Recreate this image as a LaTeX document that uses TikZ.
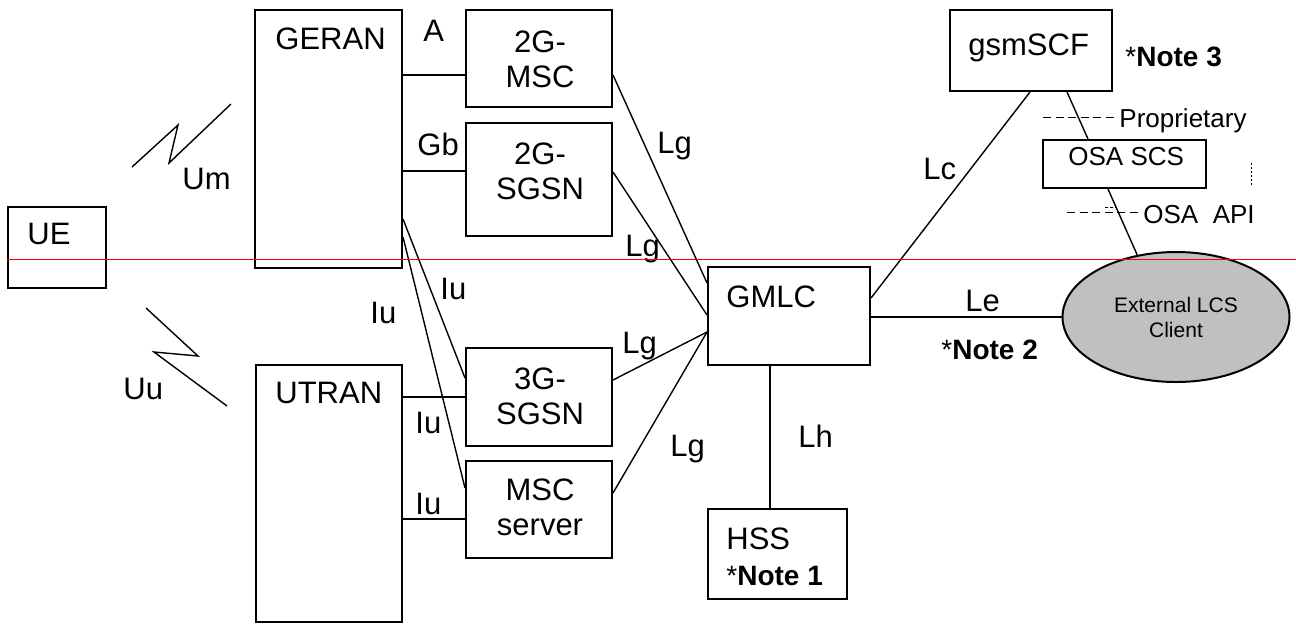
\documentclass[tikz,border=0pt]{standalone}
\usepackage{fontspec}
\setmainfont{Liberation Sans}
\usetikzlibrary{fit,shapes.geometric}
\definecolor{clientGrey}{HTML}{C0C0C0}

\begin{document}
\begin{tikzpicture}[
    x=0.5pt,y=-0.5pt,
    lcsBox/.style={draw=black,line width=1pt,inner sep=0pt},
    lcsLink/.style={draw=black,line width=0.7pt},
    lcsText/.style={inner sep=0pt,anchor=north west,
                    font=\fontsize{15.5}{17.5}\selectfont},
    lcsStack/.style={lcsText,anchor=north,align=center},
    lcsNote/.style={inner sep=0pt,anchor=north west,
                    font=\fontsize{14}{16}\selectfont},
    lcsSmall/.style={inner sep=0pt,anchor=north west,
                     font=\fontsize{13}{15}\selectfont},
    lcsDash/.style={draw=black,line width=0.5pt,dash pattern=on 4pt off 2.3pt},
    lcsDivider/.style={draw=red,line width=0.5pt}]
    \useasboundingbox (0,0) rectangle (1296,623);

    % network elements
    \node[lcsBox,fit={(8,207) (106,288)}] (ue) {};
    \node[lcsBox,fit={(255,10) (402,268)}] (geran) {};
    \node[lcsBox,fit={(256,365) (402,622)}] (utran) {};
    \node[lcsBox,fit={(466,10) (612,107)}] (msc2g) {};
    \node[lcsBox,fit={(466,123) (612,236)}] (sgsn2g) {};
    \node[lcsBox,fit={(466,348) (612,446)}] (sgsn3g) {};
    \node[lcsBox,fit={(466,461) (612,558)}] (mscsrv) {};
    \node[lcsBox,fit={(708,267) (870,365)}] (gmlc) {};
    \node[lcsBox,fit={(708,509) (847,599)}] (hss) {};
    \node[lcsBox,fit={(950,10) (1112,91)}] (gsmscf) {};
    \node[lcsBox,fit={(1043,140) (1206,188)}] (osascs) {};
    \node[ellipse,draw=black,line width=1pt,fill=clientGrey,inner sep=0pt,
          minimum width=113.5pt,minimum height=65pt,align=center,
          font=\fontsize{10.5}{12.5}\selectfont] (client) at (1176,317)
          {External LCS\\Client};

    % names inside the boxes
    \node[lcsText] (ueName) at (27,223) {UE};
    \node[lcsText] (geranName) at (275,27) {GERAN};
    \node[lcsText] (utranName) at (275,382) {UTRAN};
    \node[lcsStack] (msc2gName) at (540,30) {2G-\\MSC};
    \node[lcsStack] (sgsn2gName) at (540,142) {2G-\\SGSN};
    \node[lcsStack] (sgsn3gName) at (540,367) {3G-\\SGSN};
    \node[lcsStack] (mscsrvName) at (540,478) {MSC\\server};
    \node[lcsText] (gmlcName) at (726,285) {GMLC};
    \node[lcsText,align=left,font=\fontsize{15.5}{18}\selectfont] (hssName)
          at (726,527) {HSS\\{\fontsize{14}{18}\selectfont *\textbf{Note 1}}};
    \node[lcsText] (gsmscfName) at (968,33) {gsmSCF};
    \node[lcsSmall] (osascsName) at (1068,147) {OSA SCS};

    % radio interfaces
    \draw[lcsLink] (132,167) -- (178,125) -- (169,163) -- (231,104);
    \draw[lcsLink] (146,308) -- (198,356) -- (154,352) -- (227,406);
    \node[lcsText] (umTag) at (182,168) {Um};
    \node[lcsText] (uuTag) at (123,378) {Uu};

    % access side
    \draw[lcsLink] (geran.east |- 0,75) -- (msc2g.west |- 0,75);
    \draw[lcsLink] (geran.east |- 0,171) -- (sgsn2g.west |- 0,171);
    \draw[lcsLink] (geran.east |- 0,219) -- (sgsn3g.west |- 0,378);
    \draw[lcsLink] (geran.east |- 0,237) -- (mscsrv.west |- 0,488);
    \draw[lcsLink] (utran.east |- 0,397) -- (sgsn3g.west |- 0,397);
    \draw[lcsLink] (utran.east |- 0,519) -- (mscsrv.west |- 0,519);
    \node[lcsText] (aTag) at (423,20) {A};
    \node[lcsText] (gbTag) at (417,133) {Gb};
    \foreach \tag/\px/\py in {iu1/440/278, iu2/370/302, iu3/415/412, iu4/415/493}
        \node[lcsText] (\tag) at (\px,\py) {Iu};

    % Lg towards the GMLC
    \draw[lcsLink] (msc2g.east |- 0,75) -- (gmlc.west |- 0,283);
    \draw[lcsLink] (sgsn2g.east |- 0,172) -- (gmlc.west |- 0,315);
    \draw[lcsLink] (sgsn3g.east |- 0,380) -- (gmlc.west |- 0,332);
    \draw[lcsLink] (mscsrv.east |- 0,493) -- (gmlc.west |- 0,332);
    \foreach \tag/\px/\py in {lg1/657/132, lg2/625/235, lg3/622/332, lg4/670/435}
        \node[lcsText] (\tag) at (\px,\py) {Lg};

    % Lh, Lc, Le
    \draw[lcsLink] (gmlc.south -| 770,0) -- (hss.north -| 770,0);
    \draw[lcsLink] (gmlc.east |- 0,298) -- (gsmscf.south -| 1030,0);
    \draw[lcsLink] (gmlc.east |- client.west) -- (client.west);
    \node[lcsText] (lhTag) at (798,425) {Lh};
    \node[lcsText] (lcTag) at (923,158) {Lc};
    \node[lcsText] (leTag) at (965,290) {Le};
    \node[lcsNote] (note2) at (941,340) {*\textbf{Note 2}};
    \node[lcsNote] (note3) at (1125,47) {*\textbf{Note 3}};

    % gsmSCF - OSA SCS - client
    \draw[lcsLink] (gsmscf.south -| 1067,0) -- (osascs.north -| 1088,0);
    \draw[lcsLink] (osascs.south -| 1108,0) -- (client.122);
    \draw[lcsDash] (1043,117) -- (1117,117);
    \node[lcsSmall] (propTag) at (1119,108) {Proprietary};
    \draw[lcsDash] (1067,212) -- (1142,212);
    \node[lcsSmall] (apiTag) at (1143,205) {OSA\ \ API};
    \draw[line width=0.3pt,dash pattern=on 1pt off 1pt] (1251,163) -- (1251,187);
    \draw[line width=0.3pt,dash pattern=on 1.5pt off 1pt] (1105,207) -- (1116,207);

    % divider
    \draw[lcsDivider] (ue.west |- 0,259) -- (1296,259);
\end{tikzpicture}
\end{document}
